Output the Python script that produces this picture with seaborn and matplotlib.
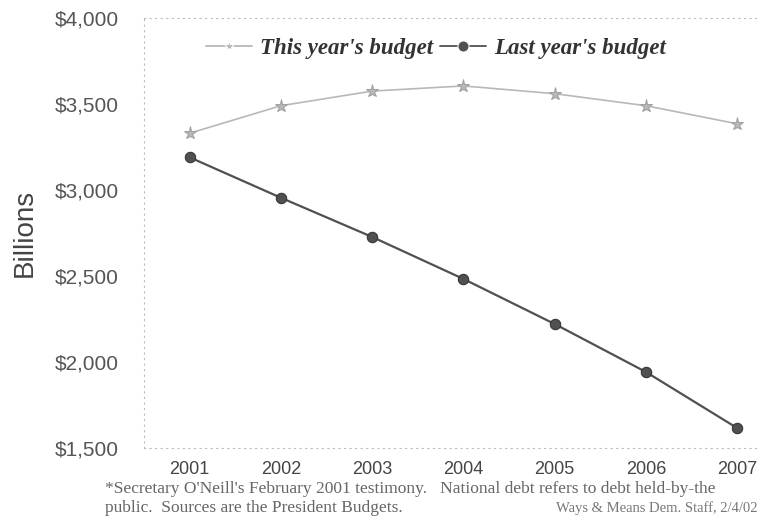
import matplotlib
matplotlib.use("Agg")
import matplotlib.pyplot as plt
import seaborn as sns
import pandas as pd

years = [2001, 2002, 2003, 2004, 2005, 2006, 2007]
this_year = [3330, 3490, 3575, 3605, 3560, 3490, 3385]
last_year = [3190, 2955, 2727, 2483, 2221, 1942, 1616]
series_names = ["This year's budget", "Last year's budget"]
y_ticks = [1500, 2000, 2500, 3000, 3500, 4000]
footnote1 = "*Secretary O'Neill's February 2001 testimony.   National debt refers to debt held-by-the"
footnote2 = "public.  Sources are the President Budgets."
footnote3 = "Ways & Means Dem. Staff, 2/4/02"

df = pd.DataFrame({
    "year": years * 2,
    "value": this_year + last_year,
    "series": [series_names[0]] * len(years) + [series_names[1]] * len(years),
})

sns.set_style("white")
plt.rcParams["font.family"] = ["Liberation Sans", "DejaVu Sans"]

fig = plt.figure(figsize=(7.69, 5.22), dpi=100)
ax = fig.add_axes([144 / 769, 1 - 448 / 522, (760 - 144) / 769, (448 - 18) / 522])

palette = {series_names[0]: "#b8b8b8", series_names[1]: "#505050"}
sns.lineplot(data=df, x="year", y="value", hue="series", style="series",
             markers={series_names[0]: "*", series_names[1]: "o"},
             dashes=False, palette=palette, ax=ax, linewidth=1.3,
             markersize=8)
styles = [("#a0a0a0", 9.5, 1.2), ("#333333", 7.5, 1.6)]
for line, (mec, ms, lw) in zip(ax.lines[:2], styles):
    line.set_markeredgecolor(mec)
    line.set_markersize(ms)
    line.set_linewidth(lw)

ax.set_xlim(2000.5, 2007.25)
ax.set_ylim(1500, 4000)
ax.set_xticks(years)
ax.set_xticklabels([str(y) for y in years], fontsize=13, color="#444444")
ax.set_yticks(y_ticks)
ax.set_yticklabels([f"${v:,}" for v in y_ticks], fontsize=15, color="#555555")
ax.tick_params(axis="x", length=0, pad=9)
ax.tick_params(axis="y", length=0, pad=18)
ax.set_xlabel("")
ax.set_ylabel("Billions", fontsize=20, color="#444444", labelpad=12)

for side in ["top", "bottom", "left"]:
    ax.spines[side].set_linestyle((0, (1, 4)))
    ax.spines[side].set_color("#bbbbbb")
    ax.spines[side].set_linewidth(0.8)
ax.spines["right"].set_visible(False)

leg = ax.legend(loc="center", bbox_to_anchor=(0.474, 0.930), ncol=2, frameon=False,
                handlelength=2.0, handletextpad=0.35, columnspacing=0.3,
                prop={"family": "Liberation Serif", "style": "italic", "weight": "bold", "size": 16.5})
for t in leg.get_texts():
    t.set_color("#333333")

fig.text(105 / 769, 1 - 489 / 522, footnote1, fontsize=12.5, color="#666666",
         family="Liberation Serif", va="center", ha="left")
fig.text(105 / 769, 1 - 508 / 522, footnote2, fontsize=12.5, color="#666666",
         family="Liberation Serif", va="center", ha="left")
fig.text(757 / 769, 1 - 508 / 522, footnote3, fontsize=10.5, color="#777777",
         family="Liberation Serif", va="center", ha="right")

fig.savefig("out.png", dpi=100)
